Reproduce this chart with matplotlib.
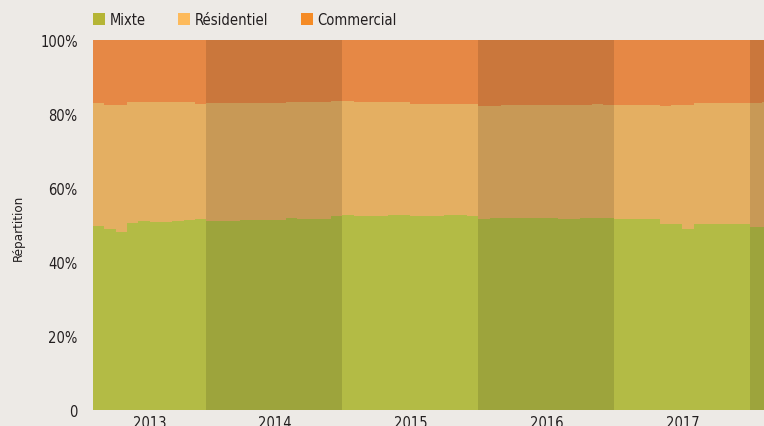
import numpy as np
import matplotlib

matplotlib.use("Agg")
import matplotlib.pyplot as plt
from matplotlib.patches import Patch
from matplotlib import font_manager

# monthly shares (%), March 2013 -> February 2018
mixte = [
    49.7, 48.9, 48.1, 50.5, 51.1, 50.8, 50.8, 51.1, 51.4, 51.6,
    51.1, 51.1, 51.1, 51.4, 51.4, 51.4, 51.4, 51.9, 51.6, 51.6, 51.6, 52.4,
    52.7, 52.4, 52.4, 52.4, 52.7, 52.7, 52.4, 52.4, 52.4, 52.7, 52.7, 52.4,
    51.6, 51.9, 51.9, 51.9, 51.9, 51.9, 51.9, 51.6, 51.6, 51.9, 51.9, 51.9,
    51.6, 51.6, 51.6, 51.6, 50.3, 50.3, 48.9, 50.3, 50.3, 50.3, 50.3, 50.3,
    49.5, 49.5,
]
residentiel = [
    33.3, 33.5, 34.3, 32.7, 32.1, 32.4, 32.4, 32.1, 31.8, 31.1,
    31.9, 31.9, 31.9, 31.6, 31.6, 31.6, 31.6, 31.3, 31.6, 31.6, 31.6, 31.1,
    30.8, 30.8, 30.8, 30.8, 30.5, 30.5, 30.3, 30.3, 30.3, 30.0, 30.0, 30.3,
    30.6, 30.3, 30.5, 30.5, 30.5, 30.5, 30.5, 30.8, 30.8, 30.5, 30.8, 30.5,
    30.8, 30.8, 30.8, 30.8, 31.9, 32.1, 33.5, 32.7, 32.7, 32.7, 32.7, 32.7,
    33.5, 33.7,
]
commercial = [
    17.0, 17.6, 17.6, 16.8, 16.8, 16.8, 16.8, 16.8, 16.8, 17.3,
    17.0, 17.0, 17.0, 17.0, 17.0, 17.0, 17.0, 16.8, 16.8, 16.8, 16.8, 16.5,
    16.5, 16.8, 16.8, 16.8, 16.8, 16.8, 17.3, 17.3, 17.3, 17.3, 17.3, 17.3,
    17.8, 17.8, 17.6, 17.6, 17.6, 17.6, 17.6, 17.6, 17.6, 17.6, 17.3, 17.6,
    17.6, 17.6, 17.6, 17.6, 17.8, 17.6, 17.6, 17.0, 17.0, 17.0, 17.0, 17.0,
    17.0, 16.8,
]
series_names = ["Mixte", "Résidentiel", "Commercial"]
years = ["2013", "2014", "2015", "2016", "2017"]
year_starts = [0, 10, 22, 34, 46, 58]  # month index where each year begins

bg = "#EDEAE6"
fill_colors = ["#B3BB45", "#E4AF62", "#E68845"]
legend_colors = ["#B5B535", "#FDBA5B", "#F58B25"]
text_color = "#231F20"

# narrow face if the system has one
names = {f.name for f in font_manager.fontManager.ttflist}
for cand in ["Liberation Sans Narrow", "DejaVu Sans Condensed"]:
    if cand in names:
        plt.rcParams["font.family"] = [cand, "DejaVu Sans"]
        break
else:
    plt.rcParams["font.family"] = ["DejaVu Sans"]
    plt.rcParams["font.stretch"] = "condensed"

fig = plt.figure(figsize=(7.64, 4.27), dpi=100, facecolor=bg)
ax = fig.add_axes([93 / 764, 1 - 411 / 427, 1 - 93 / 764, 370 / 427])
ax.set_facecolor(bg)

n = len(mixte)
x = np.arange(n + 1)
base = np.zeros(n + 1)
for vals, col in zip([mixte, residentiel, commercial], fill_colors):
    v = np.append(vals, vals[-1])
    ax.fill_between(x, base, base + v, step="post", color=col, linewidth=0)
    base = base + v

# darker shading for alternate years
ax.axvspan(year_starts[1], year_starts[2], color="black", alpha=0.12, linewidth=0)
ax.axvspan(year_starts[3], year_starts[4], color="black", alpha=0.12, linewidth=0)
ax.axvspan(year_starts[5], n + 1, color="black", alpha=0.12, linewidth=0)

ax.set_xlim(0, 59.2)
ax.set_ylim(0, 100)
for s in ax.spines.values():
    s.set_visible(False)

ax.set_yticks([0, 20, 40, 60, 80, 100])
ax.set_yticklabels(["0", "20%", "40%", "60%", "80%", "100%"])
centers = [(a + b) / 2 for a, b in zip(year_starts[:-1], year_starts[1:])]
ax.set_xticks(centers)
ax.set_xticklabels(years)
ax.tick_params(axis="both", length=0, labelsize=10.5, colors=text_color)
ax.tick_params(axis="y", pad=11)
ax.tick_params(axis="x", pad=3.5)

fig.text(18 / 764, 1 - 228 / 427, "Répartition", rotation=90, ha="center",
         va="center", fontsize=9.6, color=text_color)

handles = [Patch(facecolor=c, edgecolor="none") for c in legend_colors]
fig.legend(handles, series_names, loc="upper left",
           bbox_to_anchor=(83 / 764, 1 - 3 / 427),
           ncol=3, frameon=False, fontsize=10.5, handlelength=0.82, handleheight=0.82,
           handletextpad=0.34, columnspacing=2.2, labelcolor=text_color,
           borderaxespad=0.3)

fig.savefig("out.png", dpi=100, facecolor=bg)
